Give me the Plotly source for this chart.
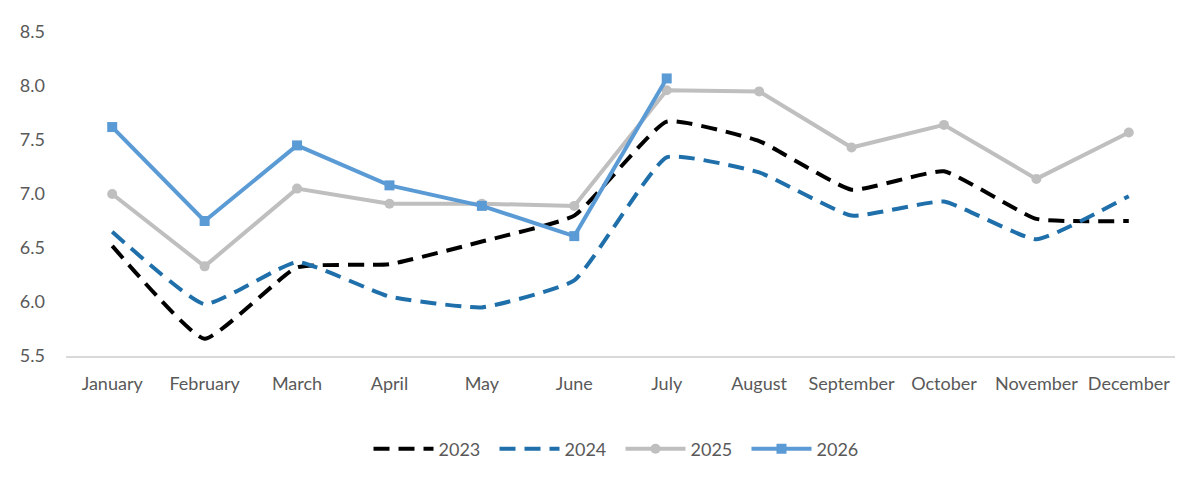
import plotly.graph_objects as go

months = ["January", "February", "March", "April", "May", "June", "July",
          "August", "September", "October", "November", "December"]

y2023 = [6.52, 5.66, 6.32, 6.35, 6.56, 6.80, 7.67, 7.49, 7.04, 7.21, 6.77, 6.75]
y2024 = [6.65, 5.98, 6.37, 6.05, 5.95, 6.20, 7.34, 7.20, 6.80, 6.93, 6.58, 6.98]
y2025 = [7.00, 6.33, 7.05, 6.91, 6.91, 6.89, 7.96, 7.95, 7.43, 7.64, 7.14, 7.57]
y2026 = [7.62, 6.75, 7.45, 7.08, 6.89, 6.61, 8.07]

fig = go.Figure()

fig.add_trace(go.Scatter(x=months, y=y2023, name="2023", mode="lines",
                         line=dict(color="#000000", width=4, dash="16px,9px",
                                   shape="spline", smoothing=0.4)))
fig.add_trace(go.Scatter(x=months, y=y2024, name="2024", mode="lines",
                         line=dict(color="#1F6FAB", width=4, dash="16px,9px",
                                   shape="spline", smoothing=0.4)))
fig.add_trace(go.Scatter(x=months, y=y2025, name="2025", mode="lines+markers",
                         line=dict(color="#BFBFBF", width=4),
                         marker=dict(symbol="circle", size=10, color="#BFBFBF")))
fig.add_trace(go.Scatter(x=months[:len(y2026)], y=y2026, name="2026", mode="lines+markers",
                         line=dict(color="#5B9BD5", width=4),
                         marker=dict(symbol="square", size=10, color="#5B9BD5")))

# page body has an 8px margin, so the figure is shrunk and offset accordingly
fig.update_layout(
    width=1192, height=474,
    margin=dict(l=55, r=25, t=17, b=126),
    paper_bgcolor="white", plot_bgcolor="white",
    font=dict(family="Lato, Open Sans, sans-serif", size=18, color="#595959"),
    showlegend=True,
    legend=dict(orientation="h", x=0.5, xanchor="center", y=-0.287, yanchor="middle",
                font=dict(size=18, color="#595959"), itemwidth=60,
                entrywidth=51, entrywidthmode="pixels",
                traceorder="normal"),
    hovermode=False,
)
fig.update_xaxes(showgrid=False, showline=True, linecolor="#D9D9D9", linewidth=1.5,
                 ticks="", ticklabelstandoff=11, range=[-0.5, 11.5], fixedrange=True)
fig.update_yaxes(showgrid=False, zeroline=False, showline=False, range=[5.5, 8.5],
                 tickvals=[5.5, 6.0, 6.5, 7.0, 7.5, 8.0, 8.5],
                 ticktext=["5.5", "6.0", "6.5", "7.0", "7.5", "8.0", "8.5"],
                 ticklabelstandoff=20, fixedrange=True)

fig.write_html("out.html")
